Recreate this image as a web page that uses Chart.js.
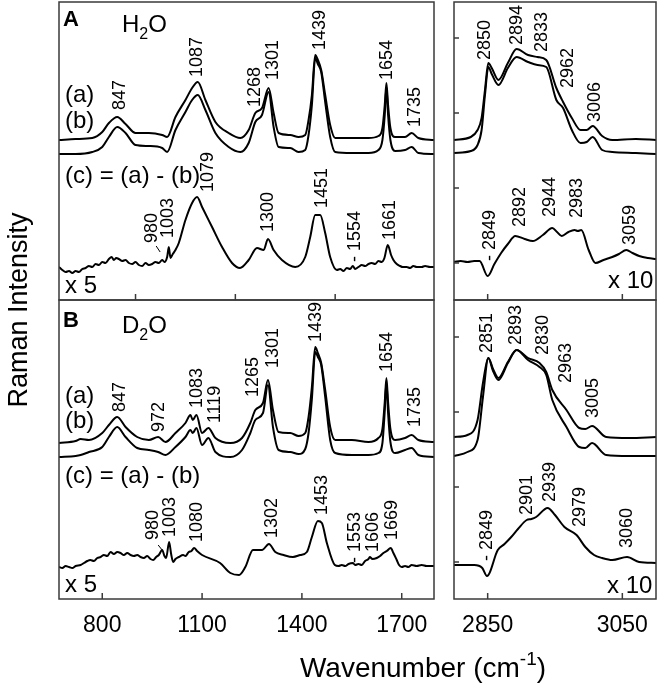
<!DOCTYPE html>
<html>
<head>
<meta charset="utf-8">
<script src="https://cdn.jsdelivr.net/npm/chart.js@4.4.0/dist/chart.umd.min.js"></script>
<style>
  body { margin: 0; background: #fff; }
  #wrap { position: relative; width: 660px; height: 684px; }
  #wrap canvas { position: absolute; left: 0; top: 0; }
</style>
</head>
<body>
<div id="wrap">
  <canvas id="cAL" width="660" height="684"></canvas>
  <canvas id="cAR" width="660" height="684"></canvas>
  <canvas id="cBL" width="660" height="684"></canvas>
  <canvas id="cBR" width="660" height="684"></canvas>
</div>
<script>
// --- datos (intensidad en unidades arbitrarias) ---

// A: H2O, 670-1800 cm-1, espectros (a) y (b)
const wnA = [670,720,770,800,820,845,870,900,940,980,995,1020,1050,1070,1087,1110,1140,1180,1215,1240,1260,1280,1300,1315,1330,1365,1390,1410,1420,1430,1440,1448,1458,1470,1485,1500,1550,1600,1630,1642,1649,1654,1659,1666,1680,1710,1730,1750,1797];
const aA = [160,161,162,168,177,183,176,167,167,165,163,183,200,212,218,200,178,167,162,170,187,192,212,187,167,165,163,165,180,205,245,240,230,205,175,162,162,162,164,172,195,217,195,172,163,163,167,162,160];
const bA = [146,146,148,153,163,173,167,155,154,152,148,170,188,200,205,190,167,153,148,157,178,185,208,173,153,152,148,150,165,195,242,236,228,198,163,148,147,147,150,160,185,213,185,160,149,150,153,147,146];
// A: (c) = (a) - (b), x5
const wnAc = [670,680,690,700,710,720,730,740,750,760,770,780,790,800,810,820,828,835,842,850,860,870,880,890,900,910,920,930,940,950,960,970,980,987,995,1000,1005,1012,1020,1030,1050,1070,1085,1100,1130,1160,1190,1214,1240,1265,1285,1298,1315,1340,1380,1410,1425,1440,1455,1470,1485,1505,1515,1525,1535,1545,1553,1560,1570,1580,1590,1600,1610,1620,1630,1640,1648,1658,1668,1675,1685,1695,1703,1715,1725,1735,1745,1760,1770,1785,1797];
const cA = [33,30,28,29,27,29,28,31,32,34,33,36,35,38,37,41,43,40,42,41,39,40,37,36,38,35,34,37,35,36,38,37,40,38,43,53,42,46,50,57,80,97,103,93,73,53,37,32,40,52,50,61,50,40,33,43,63,85,85,67,43,30,31,29,32,31,34,31,33,35,34,36,37,36,39,38,42,55,45,40,36,34,33,33,32,34,33,33,34,33,33];

// A: region C-H, 2800-3100 cm-1
const wnAR = [2800,2825,2835,2841,2846,2851,2856,2866,2880,2893,2910,2924,2937,2952,2962,2975,2988,2997,3006,3020,3035,3070,3100];
const aAR = [160,163,170,182,210,237,232,220,237,251,245,243,240,212,198,182,170,170,174,164,160,161,160];
const bAR = [147,149,155,170,205,233,226,215,232,243,238,235,233,200,192,170,157,158,163,150,148,147,146];
const wnARc = [2800,2810,2820,2830,2838,2850,2860,2870,2880,2891,2905,2917,2932,2946,2953,2960,2970,2979,2984,2989,3000,3010,3022,3035,3045,3056,3065,3075,3088,3100];
const cAR = [38,39,38,39,39,24,36,47,56,64,61,59,65,72,68,64,68,70,69,70,50,37,40,43,46,50,47,44,42,41];

// B: D2O
const wnB = [670,720,735,760,800,820,845,870,905,940,968,990,1020,1050,1065,1072,1083,1100,1119,1140,1185,1220,1245,1260,1283,1298,1313,1330,1365,1390,1410,1420,1430,1440,1448,1458,1470,1485,1500,1550,1600,1630,1642,1649,1654,1659,1666,1680,1710,1730,1750,1797];
const aB = [156,158,160,159,166,174,182,172,162,159,162,157,166,176,184,179,184,166,171,161,156,161,176,189,196,219,189,167,166,163,166,182,212,252,246,236,209,172,159,159,157,161,170,197,221,197,170,159,161,164,159,157];
const bB = [142,143,144,147,152,162,172,162,151,149,147,144,152,162,169,166,171,154,161,147,142,149,166,179,186,214,172,149,147,145,150,166,200,247,242,234,202,159,146,144,144,146,156,188,217,186,157,146,149,151,144,142];
const wnBc = [670,680,690,700,710,720,735,745,755,764,775,785,795,805,815,825,835,845,855,865,875,885,895,905,915,925,935,945,953,962,970,980,987,992,1001,1007,1013,1020,1030,1043,1050,1060,1068,1076,1085,1100,1154,1185,1211,1230,1253,1280,1301,1320,1345,1373,1395,1415,1430,1448,1460,1475,1499,1510,1520,1530,1540,1553,1560,1570,1580,1590,1600,1604,1612,1625,1635,1645,1655,1667,1675,1685,1692,1700,1710,1720,1730,1745,1760,1775,1797];
const cB = [32,31,33,32,31,33,34,36,38,39,38,41,42,44,43,47,45,47,46,44,46,44,43,44,42,41,43,40,39,42,44,49,43,41,57,45,37,40,42,44,43,47,48,51,48,44,36,26,24,32,49,49,55,47,44,42,44,47,62,78,76,56,34,33,34,33,35,36,34,35,34,38,40,42,40,41,43,46,48,51,46,39,34,32,33,32,34,33,34,33,33];

const wnBR = [2800,2820,2835,2843,2851,2858,2866,2880,2893,2910,2927,2937,2946,2967,2986,2995,3005,3026,3060,3100];
const aBR = [162,164,179,216,241,230,221,237,249,241,236,227,209,189,171,170,173,162,161,162];
const bBR = [143,147,159,202,241,228,219,236,249,239,232,224,199,172,152,151,156,144,143,143];
const wnBRc = [2800,2830,2842,2849,2865,2875,2885,2895,2908,2915,2922,2939,2950,2964,2982,2995,3008,3020,3035,3057,3075,3100];
const cBR = [34,34,31,23,49,55,62,70,79,80,82,91,84,72,64,52,44,41,39,42,37,36];

// etiquetas de picos: [texto, numero de onda, intensidad del pie del texto]
const peaksA = [['847',854,190],['1087',1085,223],['1268',1259,193],['1301',1313,220],['1439',1454,250],['1654',1655,220],['1735',1739,173],
  ['980',950,57],['1003',998,62],['1079',1118,108],['1300',1298,68],['1451',1460,92],['- 1554',1559,38],['1661',1664,60]];
const peaksAR = [['2850',2846,240],['2894',2893,255],['2833',2930,248],['2962',2969,212],['3006',3009,178],
  ['- 2849',2853,39],['2892',2898,73],['2944',2942,83],['2983',2982,82],['3059',3061,55]];
const peaksB = [['847',854,187],['972',971,167],['1083',1085,191],['1119',1139,176],['1265',1253,202],['1301',1313,231],['1439',1442,257],['1654',1655,227],['1735',1739,172],
  ['980',953,59],['1003',1004,62],['1080',1085,57],['1302',1310,61],['1453',1460,84],['- 1553',1559,36],['1606',1613,47],['1669',1670,59]];
const peaksBR = [['2851',2849,246],['2893',2892,254],['2830',2932,244],['2963',2967,216],['3005',3006,181],
  ['- 2849',2849,38],['2901',2909,84],['2939',2942,97],['2979',2987,72],['3060',3057,51]];

const ticksLow = [800, 1100, 1400, 1700];
const ticksMid = [900, 1200, 1500];
const ticksCH = [2850, 3050];
const yTicksCH = [37, 112, 187, 262];

// --- dibujo ---
const FONT = '"Liberation Sans", Arial, Helvetica, sans-serif';

function drawRich(ctx, parts, x, y, size, bold, align) {
  const fontFor = m => (bold ? 'bold ' : '') + (m ? Math.round(size * 0.68) : size) + 'px ' + FONT;
  ctx.textAlign = 'left';
  ctx.textBaseline = 'alphabetic';
  let w = 0;
  parts.forEach(([t, m]) => { ctx.font = fontFor(m); w += ctx.measureText(t).width; });
  let cx = align === 'center' ? x - w / 2 : x;
  parts.forEach(([t, m]) => {
    ctx.font = fontFor(m);
    const dy = m === 'sub' ? size * 0.28 : m === 'sup' ? -size * 0.42 : 0;
    ctx.fillText(t, cx, y + dy);
    cx += ctx.measureText(t).width;
  });
}

const panelDeco = {
  id: 'panelDeco',
  afterDatasetsDraw(chart, args, o) {
    const { ctx, chartArea: a, scales: { x, y } } = chart;
    ctx.save();
    ctx.fillStyle = '#000';

    // etiquetas de picos (rotadas)
    ctx.font = '18px ' + FONT;
    (o.peaks || []).forEach(([t, wn, v]) => {
      ctx.save();
      ctx.translate(x.getPixelForValue(wn), y.getPixelForValue(v));
      ctx.rotate(-Math.PI / 2);
      ctx.textAlign = 'left';
      ctx.textBaseline = 'middle';
      ctx.fillText(t, 0, 0);
      ctx.restore();
    });
    ctx.strokeStyle = '#000';
    ctx.lineWidth = 1;
    (o.leaders || []).forEach(([w1, v1, w2, v2]) => {
      ctx.beginPath();
      ctx.moveTo(x.getPixelForValue(w1), y.getPixelForValue(v1));
      ctx.lineTo(x.getPixelForValue(w2), y.getPixelForValue(v2));
      ctx.stroke();
    });

    (o.notes || []).forEach(n => drawRich(ctx, n.parts, a.left + n.dx, a.top + n.dy, n.size, n.bold));

    // marco y marcas interiores
    ctx.strokeStyle = '#3a3a3a';
    ctx.lineWidth = 1.5;
    ctx.strokeRect(a.left, a.top, a.width, a.height);
    (o.xTicks || []).forEach(v => {
      const px = x.getPixelForValue(v);
      ctx.beginPath(); ctx.moveTo(px, a.bottom); ctx.lineTo(px, a.bottom - 6); ctx.stroke();
    });
    (o.yTicks || []).forEach(v => {
      const py = y.getPixelForValue(v);
      ctx.beginPath(); ctx.moveTo(a.left, py); ctx.lineTo(a.left + 5, py); ctx.stroke();
    });

    if (o.xLabels) {
      ctx.font = '23px ' + FONT;
      ctx.textAlign = 'center';
      ctx.textBaseline = 'middle';
      o.xLabels.forEach(v => ctx.fillText(String(v), x.getPixelForValue(v), a.bottom + 27));
    }
    if (o.titles) {
      drawRich(ctx, [['Wavenumber (cm'], ['-1', 'sup'], [')']], 423, 677, 28, false, 'center');
      ctx.save();
      ctx.translate(27, 310);
      ctx.rotate(-Math.PI / 2);
      drawRich(ctx, [['Raman Intensity']], 0, 0, 27, false, 'center');
      ctx.restore();
    }
    ctx.restore();
  }
};

function pts(xs, ys) { return xs.map((v, i) => ({ x: v, y: ys[i] })); }

function panel(id, box, xr, ymax, series, deco) {
  return new Chart(document.getElementById(id), {
    type: 'line',
    data: {
      datasets: series.map(s => ({
        data: s,
        borderColor: '#000',
        borderWidth: 2,
        pointRadius: 0,
        fill: false,
        cubicInterpolationMode: 'monotone'
      }))
    },
    options: {
      responsive: false,
      animation: false,
      events: [],
      layout: { padding: { left: box[0], top: box[1], right: 660 - box[2], bottom: 684 - box[3] } },
      scales: {
        x: { type: 'linear', min: xr[0], max: xr[1], display: false },
        y: { type: 'linear', min: 0, max: ymax, display: false }
      },
      plugins: { legend: { display: false }, tooltip: { enabled: false }, panelDeco: deco }
    },
    plugins: [panelDeco]
  });
}

const note = (parts, dx, dy, size, bold) => ({ parts, dx, dy, size: size || 24, bold });

panel('cAL', [59, 2, 434, 300], [670, 1797], 298,
  [pts(wnA, aA), pts(wnA, bA), pts(wnAc, cA)],
  {
    peaks: peaksA, xTicks: ticksMid,
    leaders: [[962, 54, 974, 48]],
    notes: [note([['A']], 4, 24, 22, true), note([['H'], ['2', 'sub'], ['O']], 63, 30),
      note([['(a)']], 6, 100), note([['(b)']], 6, 126), note([['(c) = (a) - (b)']], 6, 181), note([['x 5']], 6, 291)]
  });

panel('cAR', [454, 2, 656, 300], [2800, 3100], 298,
  [pts(wnAR, aAR), pts(wnAR, bAR), pts(wnARc, cAR)],
  { peaks: peaksAR, xTicks: ticksCH, yTicks: yTicksCH, notes: [note([['x 10']], 154, 286)] });

panel('cBL', [59, 300, 434, 599], [670, 1797], 299,
  [pts(wnB, aB), pts(wnB, bB), pts(wnBc, cB)],
  {
    peaks: peaksB, xTicks: ticksLow, xLabels: ticksLow, titles: true,
    leaders: [[968, 54, 980, 49]],
    notes: [note([['B']], 4, 27, 22, true), note([['D'], ['2', 'sub'], ['O']], 63, 33),
      note([['(a)']], 6, 103), note([['(b)']], 6, 128), note([['(c) = (a) - (b)']], 6, 183), note([['x 5']], 6, 292)]
  });

panel('cBR', [454, 300, 656, 599], [2800, 3100], 299,
  [pts(wnBR, aBR), pts(wnBR, bBR), pts(wnBRc, cBR)],
  { peaks: peaksBR, xTicks: ticksCH, yTicks: yTicksCH, xLabels: ticksCH, notes: [note([['x 10']], 153, 293)] });
</script>
</body>
</html>
